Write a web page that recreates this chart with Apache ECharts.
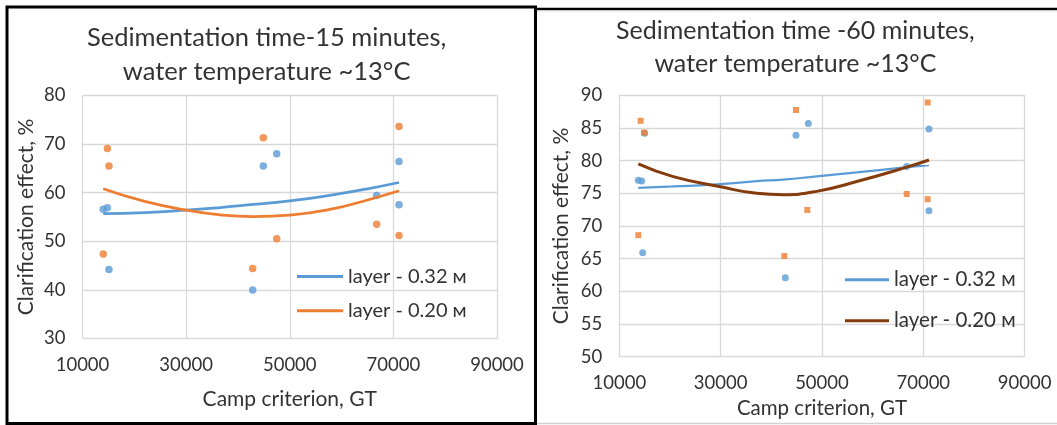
<!DOCTYPE html>
<html>
<head>
<meta charset="utf-8">
<script src="https://cdn.jsdelivr.net/npm/echarts@6/dist/echarts.min.js"></script>
<style>
  html, body { margin: 0; padding: 0; background: #fff; }
  .box { position: absolute; top: 0; height: 425px; }
  #chart15 { left: 0; width: 537px; }
  #chart60 { left: 537px; width: 520px; }
</style>
</head>
<body>
<div id="chart15" class="box"></div>
<div id="chart60" class="box"></div>
<script>
// 15 minutes: measured points (Camp criterion GT vs clarification effect %)
var gt15 = [14000, 14800, 15100, 42850, 44900, 47480, 66780, 71090, 71090];
var blue15 = [56.6, 56.9, 44.2, 40.0, 65.5, 68.0, 59.4, 66.4, 57.5];
var orange15 = [47.4, 69.1, 65.5, 44.4, 71.3, 50.5, 53.5, 73.6, 51.2];
// trend lines
var trendGt15 = [14000, 22000, 30000, 37000, 43000, 50000, 58000, 65000, 71090];
var trendBlue15 = [55.7, 55.9, 56.4, 57.0, 57.6, 58.3, 59.5, 60.8, 62.1];
var trendOrange15 = [60.8, 58.2, 56.4, 55.4, 55.1, 55.4, 56.6, 58.5, 60.4];

// 60 minutes
var gt60Blue = [13750, 14420, 14620, 15010, 42770, 44880, 47310, 66730, 71130, 71130];
var blue60 = [77.0, 76.9, 65.9, 84.2, 62.1, 83.9, 85.7, 79.1, 84.85, 72.35];
var gt60Orange = [13750, 14220, 14880, 42570, 44880, 47110, 66730, 70870, 70870];
var orange60 = [68.6, 86.1, 84.3, 65.4, 87.75, 72.45, 74.9, 88.9, 74.1];
var trendGt60 = [13750, 20660, 30000, 37120, 42370, 48960, 56860, 66730, 71130];
var trendBlue60 = [75.85, 76.05, 76.4, 76.85, 77.1, 77.6, 78.2, 79.0, 79.3];
var trendBrown60 = [79.5, 77.55, 76.0, 75.0, 74.8, 75.3, 76.8, 79.0, 80.1];

var xTicks = [10000, 30000, 50000, 70000, 90000];
var seriesNames = ['layer - 0.32 м', 'layer - 0.20 м'];

var FONT = 'Lato';
var TXT = '#333333';
var GRID_C = '#d9d9d9';
var BLUE = '#5b9bd5', ORANGE = '#ed7d31', BROWN = '#843c0c';

function zip(xs, ys) {
  var out = [];
  for (var i = 0; i < xs.length; i++) out.push([xs[i], ys[i]]);
  return out;
}

function axisX(nameGap, labelSize, nameSize) {
  return {
    type: 'value', min: xTicks[0], max: xTicks[xTicks.length - 1], interval: xTicks[1] - xTicks[0],
    name: 'Camp criterion, GT', nameLocation: 'middle', nameGap: nameGap, nameMoveOverlap: false,
    nameTextStyle: { fontFamily: FONT, fontSize: nameSize, color: TXT },
    axisLine: { show: false }, axisTick: { show: false },
    axisLabel: { fontFamily: FONT, fontSize: labelSize, color: TXT, margin: 17,
      formatter: function (v) { return String(v); } },
    splitLine: { show: true, lineStyle: { color: GRID_C, width: 1.3 } }
  };
}

function axisY(min, max, step, nameGap, labelSize, nameSize) {
  return {
    type: 'value', min: min, max: max, interval: step,
    name: 'Clarification effect, %', nameLocation: 'middle', nameGap: nameGap, nameMoveOverlap: false,
    nameTextStyle: { fontFamily: FONT, fontSize: nameSize, color: TXT },
    axisLine: { show: false }, axisTick: { show: false },
    axisLabel: { fontFamily: FONT, fontSize: labelSize, color: TXT, margin: 17 },
    splitLine: { show: true, lineStyle: { color: GRID_C, width: 1.3 } }
  };
}

// left chart
var left = echarts.init(document.getElementById('chart15'));
left.setOption({
  animation: false,
  title: {
    text: 'Sedimentation time-15 minutes,\nwater temperature ~13°C',
    left: 266.6, top: 21, padding: 0, textAlign: 'center',
    textStyle: { fontFamily: FONT, fontSize: 25.5, fontWeight: 'normal', color: TXT, lineHeight: 34 }
  },
  graphic: [{
    type: 'rect', shape: { x: 7, y: 7, width: 528.5, height: 416.5 },
    style: { fill: 'none', stroke: '#000', lineWidth: 3 }, silent: true
  }],
  grid: { left: 82.5, top: 95.5, width: 414.5, height: 243 },
  legend: {
    data: seriesNames, orient: 'vertical', left: 297, top: 266.5, padding: 0,
    icon: 'rect', itemWidth: 46, itemHeight: 3, itemGap: 14.3,
    textStyle: { fontFamily: FONT, fontSize: 20, color: TXT, lineHeight: 20 }
  },
  xAxis: axisX(50, 18.5, 21),
  yAxis: axisY(30, 80, 10, 46, 18.5, 21),
  series: [
    { type: 'scatter', data: zip(gt15, blue15), symbol: 'circle', symbolSize: 7.5, itemStyle: { color: BLUE } },
    { type: 'scatter', data: zip(gt15, orange15), symbol: 'circle', symbolSize: 7.5, itemStyle: { color: ORANGE } },
    { type: 'line', name: seriesNames[0], data: zip(trendGt15, trendBlue15), smooth: true, showSymbol: false,
      lineStyle: { color: BLUE, width: 2.75 }, itemStyle: { color: BLUE } },
    { type: 'line', name: seriesNames[1], data: zip(trendGt15, trendOrange15), smooth: true, showSymbol: false,
      lineStyle: { color: ORANGE, width: 2.75 }, itemStyle: { color: ORANGE } }
  ]
});

// right chart
var right = echarts.init(document.getElementById('chart60'));
right.setOption({
  animation: false,
  title: {
    text: 'Sedimentation time -60 minutes,\nwater temperature ~13°C',
    left: 258.4, top: 14, padding: 0, textAlign: 'center',
    textStyle: { fontFamily: FONT, fontSize: 25, fontWeight: 'normal', color: TXT, lineHeight: 33.6 }
  },
  graphic: [
    { type: 'line', shape: { x1: 0, y1: 9, x2: 520, y2: 9 }, style: { stroke: '#000', lineWidth: 2.5 }, silent: true },
    { type: 'line', shape: { x1: 0, y1: 10.8, x2: 520, y2: 10.8 }, style: { stroke: '#d0d0d0', lineWidth: 1 }, silent: true },
    { type: 'line', shape: { x1: 0, y1: 423.5, x2: 520, y2: 423.5 }, style: { stroke: '#d0d0d0', lineWidth: 1.5 }, silent: true }
  ],
  grid: { left: 82.3, top: 95.3, width: 405.3, height: 261.4 },
  legend: {
    data: seriesNames, orient: 'vertical', left: 308, top: 269.3, padding: 0,
    icon: 'rect', itemWidth: 44, itemHeight: 3, itemGap: 20,
    textStyle: { fontFamily: FONT, fontSize: 20.5, color: TXT, lineHeight: 20 }
  },
  xAxis: axisX(41, 18.5, 20.5),
  yAxis: axisY(50, 90, 5, 48, 18.5, 21),
  series: [
    { type: 'scatter', data: zip(gt60Blue, blue60), symbol: 'circle', symbolSize: 7, itemStyle: { color: BLUE } },
    { type: 'scatter', data: zip(gt60Orange, orange60), symbol: 'rect', symbolSize: 6, itemStyle: { color: ORANGE } },
    { type: 'line', name: seriesNames[0], data: zip(trendGt60, trendBlue60), smooth: true, showSymbol: false,
      lineStyle: { color: BLUE, width: 2.25 }, itemStyle: { color: BLUE } },
    { type: 'line', name: seriesNames[1], data: zip(trendGt60, trendBrown60), smooth: true, showSymbol: false,
      lineStyle: { color: BROWN, width: 3 }, itemStyle: { color: BROWN } }
  ]
});
</script>
</body>
</html>
